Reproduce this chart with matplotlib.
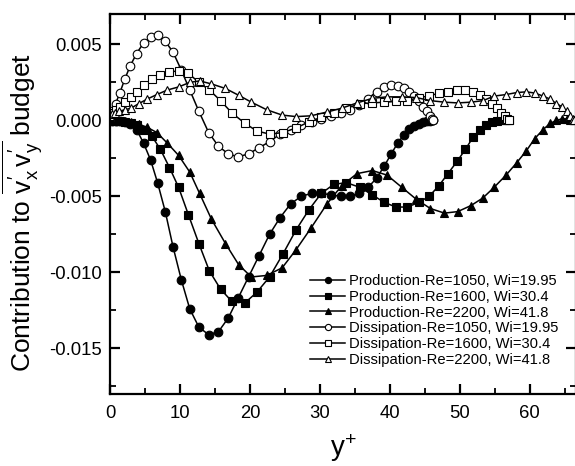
import matplotlib
matplotlib.use("Agg")
import matplotlib.pyplot as plt
from matplotlib.ticker import MultipleLocator, FormatStrFormatter

plt.rcParams['font.family'] = ['Liberation Sans', 'DejaVu Sans']
plt.rcParams['mathtext.fontset'] = 'custom'
plt.rcParams['mathtext.rm'] = 'Liberation Sans'
plt.rcParams['mathtext.it'] = 'Liberation Sans'
plt.rcParams['axes.unicode_minus'] = False

# wall-normal positions (y+) of the grid points for each case
yp_1050 = [0, 0.3, 0.8, 1.4, 2.1, 2.9, 3.8, 4.8, 5.8, 6.8, 7.9, 9.0, 10.2, 11.4,
           12.7, 14.1, 15.5, 16.9, 18.3, 19.8, 21.3, 22.8, 24.3, 25.8, 27.3,
           28.8, 30.2, 31.6, 33.0, 34.3, 35.6, 36.9, 38.1, 39.2, 40.2, 41.1,
           42.0, 42.8, 43.5, 44.2, 44.8, 45.3, 45.7, 46.0, 46.2]
prod_1050 = [0, -0.00001, -0.00003, -0.00006, -0.00012, -0.00025, -0.0006,
             -0.0015, -0.0026, -0.0041, -0.0060, -0.0083, -0.0105, -0.0124,
             -0.0136, -0.0141, -0.0139, -0.0130, -0.0117, -0.0103, -0.0089,
             -0.0075, -0.0064, -0.0055, -0.0050, -0.0048, -0.0048, -0.0049,
             -0.0050, -0.0050, -0.0048, -0.0044, -0.0038, -0.0030, -0.0022,
             -0.0015, -0.00095, -0.00055, -0.00038, -0.00022, -0.0001,
             -0.00005, -0.00002, 0, 0]
diss_1050 = [0.0003, 0.0006, 0.0011, 0.0018, 0.0027, 0.0036, 0.0044, 0.0051,
             0.0055, 0.0056, 0.0052, 0.0045, 0.0033, 0.0020, 0.0006, -0.0008,
             -0.0017, -0.0022, -0.0024, -0.0022, -0.0018, -0.0014, -0.0009,
             -0.0006, -0.0003, -0.0001, 0.0001, 0.0003, 0.0005, 0.0007, 0.0010,
             0.0014, 0.0019, 0.0022, 0.0023, 0.00225, 0.0021, 0.0019, 0.0016,
             0.0013, 0.0009, 0.0006, 0.0003, 0.0001, 0.0]

yp_1600 = [0, 0.1, 0.4, 0.9, 1.5, 2.2, 3.0, 3.9, 4.9, 6.0, 7.2, 8.5, 9.8, 11.2,
           12.7, 14.2, 15.8, 17.4, 19.3, 21.0, 22.8, 24.7, 26.6, 28.4, 30.2,
           32.0, 33.8, 35.7, 37.5, 39.2, 40.9, 42.5, 44.1, 45.6, 47.0, 48.3,
           49.6, 50.8, 51.9, 52.9, 53.8, 54.6, 55.3, 55.9, 56.4, 56.7, 57.0]
prod_1600 = [0, 0, -0.00001, -0.00003, -0.00006, -0.0001, -0.00018, -0.0003,
             -0.0006, -0.00105, -0.0019, -0.0031, -0.0044, -0.0062, -0.0081,
             -0.0099, -0.0111, -0.0119, -0.0120, -0.0113, -0.0103, -0.0088,
             -0.0072, -0.0059, -0.0048, -0.0042, -0.0041, -0.0044, -0.0049,
             -0.0054, -0.0057, -0.0057, -0.0054, -0.0050, -0.0043, -0.0035,
             -0.0027, -0.0019, -0.0011, -0.0006, -0.0003, -0.00012, -0.00004,
             0, 0, 0, 0]
diss_1600 = [0.0003, 0.0004, 0.0005, 0.0007, 0.0009, 0.0012, 0.00155, 0.0019,
             0.0023, 0.0027, 0.0030, 0.0032, 0.00325, 0.0031, 0.0025, 0.0020,
             0.0013, 0.0005, -0.0002, -0.0007, -0.0009, -0.0008, -0.0005,
             -0.0001, 0.0002, 0.0005, 0.0008, 0.0011, 0.00115, 0.0012, 0.00125,
             0.0013, 0.0015, 0.0016, 0.0018, 0.0019, 0.0020, 0.0020, 0.0019,
             0.0017, 0.0014, 0.0011, 0.0008, 0.0005, 0.0003, 0.0001, 0.0]

yp_2200 = [0, 0.05, 0.3, 0.7, 1.3, 2.1, 3.0, 4.1, 5.3, 6.7, 8.2, 9.8, 11.4,
           12.8, 14.5, 16.5, 18.4, 20.2, 22.4, 24.6, 26.6, 28.7, 31.0, 33.1,
           35.3, 37.5, 39.6, 41.7, 43.8, 45.8, 47.8, 49.7, 51.6, 53.3, 54.9,
           56.6, 58.1, 59.5, 60.7, 61.9, 62.9, 63.8, 64.6, 65.3, 65.8, 66.1,
           66.3]
prod_2200 = [0, 0, 0, -0.00001, -0.00003, -0.00007, -0.00013, -0.00025,
             -0.00045, -0.0008, -0.0015, -0.0023, -0.0034, -0.0048, -0.0065,
             -0.0081, -0.0095, -0.0103, -0.0102, -0.0097, -0.0085, -0.0071,
             -0.0055, -0.0043, -0.0035, -0.0033, -0.0036, -0.0044, -0.0052,
             -0.0058, -0.0061, -0.0060, -0.0056, -0.0051, -0.0044, -0.0036,
             -0.0028, -0.0020, -0.0012, -0.0006, -0.0002, 0, 0.0001, 0.0001,
             0.00005, 0, 0]
diss_2200 = [0.0002, 0.0003, 0.0004, 0.0005, 0.0006, 0.0007, 0.0008, 0.0011,
             0.0014, 0.0017, 0.0020, 0.0022, 0.0025, 0.0026, 0.0024, 0.0021,
             0.00165, 0.0012, 0.0007, 0.00035, 0.00025, 0.0003, 0.00055,
             0.0008, 0.00115, 0.00145, 0.00155, 0.00155, 0.0015, 0.0013,
             0.0012, 0.00115, 0.0012, 0.0013, 0.0016, 0.0017, 0.00183,
             0.00188, 0.0018, 0.0016, 0.0014, 0.0011, 0.0009, 0.0006, 0.0003,
             0.0001, 0.0]

labels = ["Production-Re=1050, Wi=19.95",
          "Production-Re=1600, Wi=30.4",
          "Production-Re=2200, Wi=41.8",
          "Dissipation-Re=1050, Wi=19.95",
          "Dissipation-Re=1600, Wi=30.4",
          "Dissipation-Re=2200, Wi=41.8"]

series = [
    (yp_1050, prod_1050, 'o', 'black'),
    (yp_1600, prod_1600, 's', 'black'),
    (yp_2200, prod_2200, '^', 'black'),
    (yp_1050, diss_1050, 'o', 'white'),
    (yp_1600, diss_1600, 's', 'white'),
    (yp_2200, diss_2200, '^', 'white'),
]
sizes = {'o': 6.2, 's': 5.6, '^': 6.4}

fig = plt.figure(figsize=(5.75, 4.66), dpi=100)
ax = fig.add_axes([110 / 575, 72 / 466, 466 / 575, 380 / 466])

for (x, y, m, fc), lab in zip(series, labels):
    ax.plot(x, y, color='black', lw=1.1, marker=m, ms=sizes[m],
            mfc=fc, mec='black', mew=0.8, label=lab)

ax.set_xlim(0, 66.6)
ax.set_ylim(-0.018, 0.007)
ax.xaxis.set_major_locator(MultipleLocator(10))
ax.xaxis.set_minor_locator(MultipleLocator(5))
ax.yaxis.set_major_locator(MultipleLocator(0.005))
ax.yaxis.set_minor_locator(MultipleLocator(0.0025))
ax.yaxis.set_major_formatter(FormatStrFormatter('%.3f'))

ax.tick_params(which='both', direction='in', top=True, right=True,
               labelsize=13.3)
ax.tick_params(axis='x', which='both', pad=8)
ax.tick_params(axis='y', which='both', pad=6)
ax.tick_params(which='major', length=7, width=1.6)
ax.tick_params(which='minor', length=4, width=1.3)
for s in ax.spines.values():
    s.set_linewidth(1.6)

ax.set_xlabel(r'$\mathrm{y}^{+}$', fontsize=20, labelpad=7)
ax.set_ylabel(r'Contribution to $\overline{\mathrm{v}_{\mathrm{x}}^{\prime}\,\mathrm{v}_{\mathrm{y}}^{\prime}}$ budget',
              fontsize=19)
ax.yaxis.set_label_coords(-0.140, 0.478)

ax.legend(loc='upper left', bbox_to_anchor=((310 - 110) / 466, (394 - 274) / 380),
          frameon=False, fontsize=10.6, handlelength=2.4, handletextpad=0.25,
          labelspacing=0.12, borderpad=0, borderaxespad=0, markerscale=0.72)

fig.savefig('out.png', dpi=100)
